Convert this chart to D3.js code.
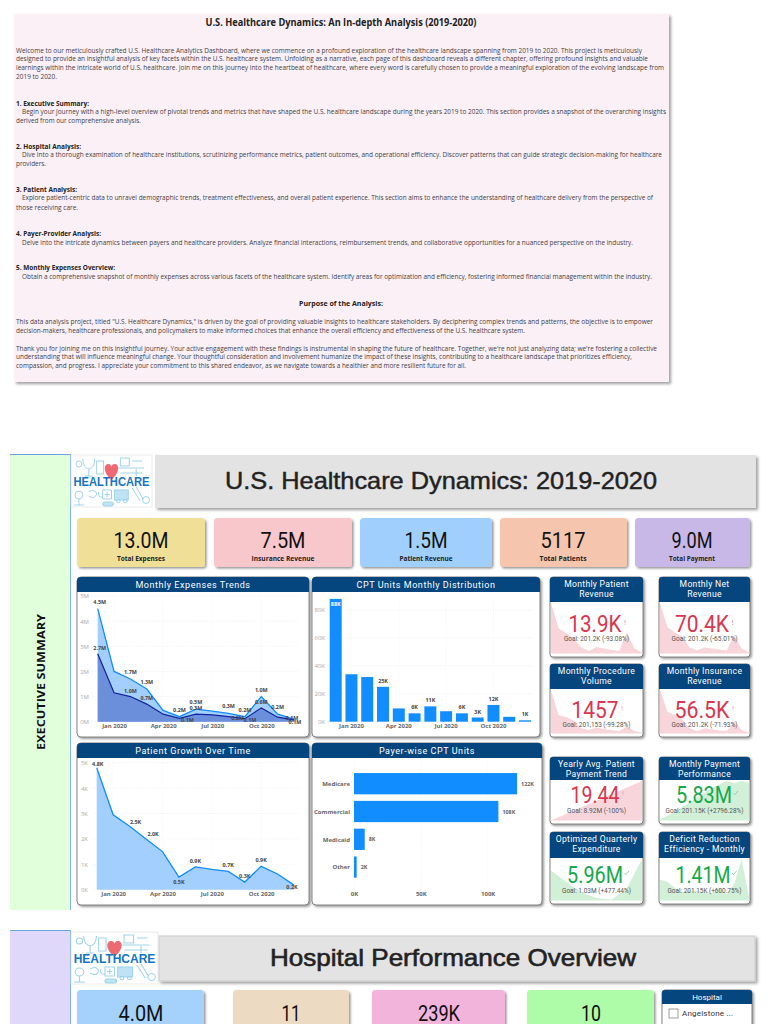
<!DOCTYPE html>
<html><head><meta charset="utf-8">
<script src="https://cdn.jsdelivr.net/npm/d3@7/dist/d3.min.js"></script>
<style>html,body{margin:0;padding:0;background:#fff;overflow:hidden}svg{display:block}</style>
</head><body><svg id="c" width="768" height="1024" viewBox="0 0 768 1024"></svg>
<script>
const docTexts=["Welcome to our meticulously crafted U.S. Healthcare Analytics Dashboard, where we commence on a profound exploration of the healthcare landscape spanning from 2019 to 2020. This project is meticulously",
"designed to provide an insightful analysis of key facets within the U.S. healthcare system. Unfolding as a narrative, each page of this dashboard reveals a different chapter, offering profound insights and valuable",
"learnings within the intricate world of U.S. healthcare. Join me on this journey into the heartbeat of healthcare, where every word is carefully chosen to provide a meaningful exploration of the evolving landscape from",
"2019 to 2020.",
"1. Executive Summary:",
"Begin your journey with a high-level overview of pivotal trends and metrics that have shaped the U.S. healthcare landscape during the years 2019 to 2020. This section provides a snapshot of the overarching insights",
"derived from our comprehensive analysis.",
"2. Hospital Analysis:",
"Dive into a thorough examination of healthcare institutions, scrutinizing performance metrics, patient outcomes, and operational efficiency. Discover patterns that can guide strategic decision-making for healthcare",
"providers.",
"3. Patient Analysis:",
"Explore patient-centric data to unravel demographic trends, treatment effectiveness, and overall patient experience. This section aims to enhance the understanding of healthcare delivery from the perspective of",
"those receiving care.",
"4. Payer-Provider Analysis:",
"Delve into the intricate dynamics between payers and healthcare providers. Analyze financial interactions, reimbursement trends, and collaborative opportunities for a nuanced perspective on the industry.",
"5. Monthly Expenses Overview:",
"Obtain a comprehensive snapshot of monthly expenses across various facets of the healthcare system. Identify areas for optimization and efficiency, fostering informed financial management within the industry.",
"This data analysis project, titled \"U.S. Healthcare Dynamics,\" is driven by the goal of providing valuable insights to healthcare stakeholders. By deciphering complex trends and patterns, the objective is to empower",
"decision-makers, healthcare professionals, and policymakers to make informed choices that enhance the overall efficiency and effectiveness of the U.S. healthcare system.",
"Thank you for joining me on this insightful journey. Your active engagement with these findings is instrumental in shaping the future of healthcare. Together, we're not just analyzing data; we're fostering a collective",
"understanding that will influence meaningful change. Your thoughtful consideration and involvement humanize the impact of these insights, contributing to a healthcare landscape that prioritizes efficiency,",
"compassion, and progress. I appreciate your commitment to this shared endeavor, as we navigate towards a healthier and more resilient future for all."];
const months=["Dec 2019","Jan 2020","Feb 2020","Mar 2020","Apr 2020","May 2020","Jun 2020","Jul 2020","Aug 2020","Sep 2020","Oct 2020","Nov 2020","Dec 2020"];
const monthTicks=["Jan 2020","Apr 2020","Jul 2020","Oct 2020"];
const expensesTotal=[4.5,2.0,1.7,1.3,0.45,0.2,0.5,0.42,0.33,0.2,1.0,0.3,0.1];
const expensesPart=[2.7,1.15,1.0,0.7,0.3,0.13,0.3,0.27,0.2,0.12,0.55,0.18,0.07];
const expensesTotalLabels=["4.5M","","1.7M","1.3M","","0.2M","0.5M","","0.3M","0.2M","1.0M","0.2M","0.1M"];
const expensesPartLabels=["2.7M","","1.0M","0.7M","","0.1M","0.3M","","0.2M","0.1M","0.6M","","0.1M"];
const cptUnits=[88,34,32,25,9.5,6,11,7.5,6,3,12,3.5,1];
const cptLabels=["88K","","","25K","","6K","11K","","6K","3K","12K","","1K"];
const patients=[4.8,2.95,2.5,2.0,1.5,0.5,0.9,0.8,0.72,0.3,0.92,0.62,0.18];
const patientLabels=["4.8K","","2.5K","2.0K","","0.5K","0.9K","","0.7K","0.3K","0.9K","","0.2K"];
const payers=["Medicare","Commercial","Medicaid","Other"];
const payerUnits=[122,108,8,2];
const kpiLabels=["Total Expenses","Insurance Revenue","Patient Revenue","Total Patients","Total Payment"];
const kpiValues=["13.0M","7.5M","1.5M","5117","9.0M"];
const hospitalKpis=["4.0M","11","239K","10"];
const cardTitles=[["Monthly Patient","Revenue"],["Monthly Net","Revenue"],["Monthly Procedure","Volume"],["Monthly Insurance","Revenue"],["Yearly Avg. Patient","Payment Trend"],["Monthly Payment","Performance"],["Optimized Quarterly","Expenditure"],["Deficit Reduction","Efficiency - Monthly"]];
const cardValues=["13.9K","70.4K","1457","56.5K","19.44","5.83M","5.96M","1.41M"];
const cardGoals=["Goal: 201.2K (-93.08%)","Goal: 201.2K (-65.01%)","Goal: 201,153 (-99.28%)","Goal: 201.2K (-71.93%)","Goal: 8.92M (-100%)","Goal: 201.15K (+2796.28%)","Goal: 1.03M (+477.44%)","Goal: 201.15K (+600.75%)"];
const cardGood=[false,false,false,false,false,true,true,true];
const sparkPatientRev=[1,.5,.4,.3,.12,.05,.13,.1,.07,.05,.42,.1,.02];
const sparkNetRev=[1,.52,.42,.33,.12,.06,.12,.1,.08,.06,.36,.1,.02];
const sparkProcedure=[1,.42,.38,.3,.12,.08,.14,.1,.08,.05,.16,.06,.02];
const sparkInsurance=[1,.5,.42,.32,.12,.05,.12,.1,.07,.05,.28,.08,.02];
const sparkYearly=[0,1];
const sparkPayment=[.03,.12,.22,.34,.46,.58,.7,.82,.92,1,.95,1,.96];
const sparkQuarterly=[.72,.45,.2,.06,.02,.3,1];
const sparkDeficit=[.5,.45,.3,.2,.25,.22,.2,.18,.3,.15,.4,1,.08];
const cardSparks=[sparkPatientRev,sparkNetRev,sparkProcedure,sparkInsurance,sparkYearly,sparkPayment,sparkQuarterly,sparkDeficit];

const svg=d3.select("#c");
const SANS="'Open Sans','Noto Sans',sans-serif", DIN="Roboto,'Noto Sans',sans-serif", ARIAL="'Liberation Sans',Arial,sans-serif";
const defs=svg.append("defs");
function shadow(id,dx,dy,sd,op){const f=defs.append("filter").attr("id",id).attr("x","-10%").attr("y","-10%").attr("width","125%").attr("height","125%");
 f.append("feDropShadow").attr("dx",dx).attr("dy",dy).attr("stdDeviation",sd).attr("flood-color","#000").attr("flood-opacity",op);}
shadow("s1",2,2,1.6,.38);shadow("s2",1.5,1.5,1.2,.42);
function txt(g,s,x,y,o={}){const t=g.append("text").attr("x",x).attr("y",y).text(s)
 .attr("font-family",o.f||SANS).attr("font-size",o.s||7).attr("fill",o.c||"#333").attr("font-weight",o.w||400)
 .attr("text-anchor",o.a||"start");
 if(o.len)t.attr("textLength",o.len).attr("lengthAdjust","spacingAndGlyphs");
 if(o.ls)t.attr("letter-spacing",o.ls);
 if(o.tr)t.attr("transform",o.tr);
 if(o.sw)t.attr("stroke",o.c||"#333").attr("stroke-width",o.sw);
 return t;}

/* intro document */
const doc=svg.append("g");
doc.append("rect").attr("x",14).attr("y",14).attr("width",655).attr("height",368).attr("fill","#fbf0f6").attr("filter","url(#s1)");
txt(doc,"U.S. Healthcare Dynamics: An In-depth Analysis (2019-2020)",341,26,{s:10,w:700,a:"middle",c:"#222",len:271});
const docY=[53,61,70,79,106,114,123,149,157,166,192,200,210,236,245,270,279,324,333,351,359,368];
const docX=[16,16,16,16,16,22,16,16,22,16,16,22,16,16,22,16,22,16,16,16,16,16];
const docEnd=[642,648,664,57,89,666,141,81,662,46,77,653,78,101,633,115,652,653,525,657,632,466];
const docBold=[4,7,10,13,15];
docTexts.forEach((t,i)=>{const b=docBold.includes(i);
 txt(doc,t,docX[i],docY[i],{s:6.3,w:b?700:400,c:b?"#222":"#3f3f46",len:docEnd[i]-docX[i]});});
txt(doc,"Purpose of the Analysis:",341,306,{s:7,w:700,a:"middle",c:"#222",len:84});

/* logo */
function logo(x,y,w,h){const g=svg.append("g").attr("transform",`translate(${x},${y}) scale(${w/82},${h/52})`);
 g.append("rect").attr("width",82).attr("height",52).attr("fill","#fff").attr("stroke","#ddd").attr("stroke-width",.6);
 const ic=g.append("g").attr("fill","none").attr("stroke","#9fd3ea").attr("stroke-width",1);
 ic.append("circle").attr("cx",8).attr("cy",9).attr("r",3);
 ic.append("path").attr("d","M12 4 C12 17 24 17 24 4 M18 14 V21 M14 21 H22");
 ic.append("rect").attr("x",26).attr("y",6).attr("width",7).attr("height",13);
 ic.append("path").attr("d","M46 13 H74 M50 18 H72 M50 3 h9 v8 h-9z M66 14 v7 M62 6 h10");
 ic.append("circle").attr("cx",8).attr("cy",40).attr("r",4);
 ic.append("path").attr("d","M8 44 V50 M3 50 H13 M18 37 q6 -4 8 2 q-2 6 -8 2 M28 37 q-1 6 4 5 M32 35 h9 v9 h-9z M36.5 37 v5 M34 39.5 h5");
 ic.append("rect").attr("x",44).attr("y",35).attr("width",14).attr("height",10).attr("fill","#bfe3f2");
 ic.append("circle").attr("cx",48).attr("cy",46).attr("r",1.8);ic.append("circle").attr("cx",55).attr("cy",46).attr("r",1.8);
 ic.append("path").attr("d","M62 33 L70 46 M66 32 L73 44");
 ic.append("circle").attr("cx",76).attr("cy",45).attr("r",3.5);
 ic.append("rect").attr("x",32).attr("y",47).attr("width",11).attr("height",4).attr("rx",2).attr("fill","#bfe3f2");
 g.append("path").attr("fill","#ee6a72").attr("d","M41 25 C32 17 33 9 38 9 C40 9 41 11 41 12 C41 11 42 9 44 9 C49 9 50 17 41 25Z");
 txt(g,"HEALTHCARE",41,31.5,{f:ARIAL,s:12,w:700,a:"middle",c:"#1274c6",len:77});
}

/* section frames */
const s1=svg.append("g");
s1.append("rect").attr("x",10).attr("y",454).attr("width",60).attr("height",456).attr("fill","#e2ffdc");
s1.append("rect").attr("x",10).attr("y",454).attr("width",60).attr("height",1).attr("fill","#6aa6e0");
s1.append("rect").attr("x",70).attr("y",454).attr("width",1).attr("height",456).attr("fill","#7eb4ea");
s1.append("rect").attr("x",155).attr("y",455).attr("width",601).attr("height",53).attr("fill","#e3e3e3").attr("filter","url(#s1)");
logo(71,455,81,52);
txt(s1,"U.S. Healthcare Dynamics: 2019-2020",441,489,{f:ARIAL,s:24,c:"#222",a:"middle",len:432,sw:.45});
txt(s1,"EXECUTIVE SUMMARY",0,0,{s:11,w:700,c:"#111",a:"middle",len:136,tr:"translate(45,682) rotate(-90)"});

function kpi(g,x,y,w,h,fill,val,cx,vlen,by,lab,lx,llen){
 g.append("rect").attr("x",x).attr("y",y).attr("width",w).attr("height",h).attr("rx",3.5).attr("fill",fill).attr("filter","url(#s2)");
 txt(g,val,cx,by,{f:DIN,s:22,c:"#111",a:"middle",len:vlen});
 if(lab)txt(g,lab,lx,561,{s:6.2,w:700,c:"#222",a:"middle",len:llen});
}
const kpiRect=[[77,128,"#f0df96",141,55,48],[214,138,"#f7c7cc",283,45,63],[360,132,"#a0cffe",426,43,53],[500,127,"#f5c6ad",563,45,47],[635,115,"#c8b8e8",692,41,46]];
kpiValues.forEach((v,i)=>{const r=kpiRect[i];kpi(s1,r[0],518,r[1],49,r[2],v,r[3],r[4],548,kpiLabels[i],r[3],r[5]);});

const HEAD="#05467f";
function topRound(x,y,w,h,r){return `M${x} ${y+h}V${y+r}Q${x} ${y} ${x+r} ${y}H${x+w-r}Q${x+w} ${y} ${x+w} ${y+r}V${y+h}Z`;}
function panel(x,y,w,h,hh,title){const g=svg.append("g");
 g.append("rect").attr("x",x).attr("y",y).attr("width",w).attr("height",h).attr("rx",4).attr("fill","#fff").attr("stroke","#666").attr("stroke-width",.8).attr("filter","url(#s2)");
 g.append("path").attr("d",topRound(x,y,w,hh,4)).attr("fill",HEAD);
 txt(g,title,x+w/2,y+hh/2+3.1,{f:DIN,s:9,c:"#fff",a:"middle",ls:.55});
 return g;}
function gridH(g,y,vals,x0,x1){g.selectAll(null).data(vals).join("line").attr("x1",x0).attr("x2",x1).attr("y1",d=>y(d)).attr("y2",d=>y(d)).attr("stroke","#e6e6e6").attr("stroke-width",.6).attr("stroke-dasharray","1 1.5");}
function gridV(g,xf,vals,y0,y1){g.selectAll(null).data(vals).join("line").attr("y1",y0).attr("y2",y1).attr("x1",xf).attr("x2",xf).attr("stroke","#efefef").attr("stroke-width",.6).attr("stroke-dasharray","1 1.5");}
function styleAxis(a,col,w){a.select(".domain").remove();a.selectAll(".tick line").remove();
 a.selectAll("text").attr("font-family",SANS).attr("font-size",6).attr("fill",col).attr("font-weight",w);}
function yAxis(g,y,x,vals,suffix){const a=g.append("g").attr("transform",`translate(${x},0)`).call(d3.axisLeft(y).tickValues(vals).tickFormat(d=>d+suffix).tickSize(0).tickPadding(0));styleAxis(a,"#aaa",400);}
function xAxis(g,sc,yy,vals,fmt){const ax=d3.axisBottom(sc).tickValues(vals).tickSize(0).tickPadding(0);if(fmt)ax.tickFormat(fmt);
 const a=g.append("g").attr("transform",`translate(0,${yy})`).call(ax);styleAxis(a,"#666",700);}
function dlab(g,s,x,y,o={}){if(!s)return;txt(g,s,x,y,{s:5.4,w:700,c:o.c||"#444",a:o.a||"middle"});}

/* Monthly expenses */
{const g=panel(77,577,232,160,15,"Monthly Expenses Trends");
 const x=d3.scalePoint().domain(months).range([97.7,294]);
 const y=d3.scaleLinear().domain([0,5]).range([721.7,596]);
 const yv=[0,1,2,3,4,5];gridH(g,y,yv,92,298);gridV(g,d=>d,monthTicks.map(m=>x(m)),596,722);
 yAxis(g,y,89,yv,"M");xAxis(g,x,724,monthTicks);
 const area=(s)=>d3.area().x((d,i)=>x(months[i])).y0(y(0)).y1(d=>y(d))(s);
 const line=(s)=>d3.line().x((d,i)=>x(months[i])).y(d=>y(d))(s);
 g.append("path").attr("d",area(expensesTotal)).attr("fill","#a3cfff");
 g.append("path").attr("d",area(expensesPart)).attr("fill","#6c8fdc");
 g.append("path").attr("d",line(expensesTotal)).attr("fill","none").attr("stroke","#118dff").attr("stroke-width",1.3);
 g.append("path").attr("d",line(expensesPart)).attr("fill","none").attr("stroke","#12239e").attr("stroke-width",1.2);
 const topOff={0:[2,-5],12:[-2,0.5]};
 const lowOff={0:[2,-4],5:[8,3.5],8:[9,3],9:[5,3.5],12:[1,4]};
 expensesTotal.forEach((v,i)=>{const o=topOff[i]||[0,-5];dlab(g,expensesTotalLabels[i],x(months[i])+o[0],y(v)+o[1]);});
 expensesPart.forEach((v,i)=>{const o=lowOff[i]||[0,-4];dlab(g,expensesPartLabels[i],x(months[i])+o[0],y(v)+o[1]);});
}
/* CPT monthly */
{const g=panel(312,577,228,160,15,"CPT Units Monthly Distribution");
 const x=d3.scaleBand().domain(months).range([327.8,532.9]).paddingInner(.24).paddingOuter(.12);
 const y=d3.scaleLinear().domain([0,90]).range([721.7,596.1]);
 const yv=[0,20,40,60,80];gridH(g,y,yv,328,532);gridV(g,d=>d,monthTicks.map(m=>x(m)+x.bandwidth()/2),598,722);
 yAxis(g,y,325,yv,"K");xAxis(g,x,724,monthTicks);
 g.selectAll(null).data(cptUnits).join("rect").attr("x",(d,i)=>x(months[i])).attr("width",x.bandwidth()).attr("y",d=>y(d)).attr("height",d=>y(0)-y(d)).attr("fill","#118dff");
 cptUnits.forEach((v,i)=>{if(i==0)dlab(g,cptLabels[i],x(months[i])+x.bandwidth()/2,y(v)+7,{c:"#fff"});else dlab(g,cptLabels[i],x(months[i])+x.bandwidth()/2,y(v)-4);});
}
/* Patient growth */
{const g=panel(77,743,232,162,15,"Patient Growth Over Time");
 const x=d3.scalePoint().domain(months).range([96.7,294]);
 const y=d3.scaleLinear().domain([0,5]).range([889.7,762.7]);
 const yv=[0,1,2,3,4,5];gridH(g,y,yv,92,298);gridV(g,d=>d,monthTicks.map(m=>x(m)),763,890);
 yAxis(g,y,88,yv,"K");xAxis(g,x,892,monthTicks);
 g.append("path").attr("d",d3.area().x((d,i)=>x(months[i])).y0(y(0)).y1(d=>y(d))(patients)).attr("fill","#a3cfff");
 g.append("path").attr("d",d3.line().x((d,i)=>x(months[i])).y(d=>y(d))(patients)).attr("fill","none").attr("stroke","#118dff").attr("stroke-width",1.3);
 const off={0:[1,-1.5],2:[6,-2.5],3:[7,-2.5],5:[0,7],6:[0,-4],8:[0,-4],9:[0,-4],10:[0,-4],12:[-2,3.5]};
 patients.forEach((v,i)=>{if(off[i])dlab(g,patientLabels[i],x(months[i])+off[i][0],y(v)+off[i][1]);});
}
/* Payer */
{const g=panel(312,743,230,162,15,"Payer-wise CPT Units");
 const x=d3.scaleLinear().domain([0,100]).range([354,487.7]);
 const y=d3.scaleBand().domain(payers).range([769.8,881]).paddingInner(.235).paddingOuter(.1175);
 gridV(g,x,[0,50,100],762,890);
 xAxis(g,x,892,[0,50,100],d=>d+"K");
 g.selectAll(null).data(payerUnits).join("rect").attr("x",x(0)).attr("y",(d,i)=>y(payers[i])).attr("height",y.bandwidth()).attr("width",d=>x(d)-x(0)).attr("fill","#118dff");
 payers.forEach((p,i)=>{txt(g,p,350,y(p)+y.bandwidth()/2+2.2,{s:6,w:700,c:"#666",a:"end"});
  dlab(g,payerUnits[i]+"K",x(payerUnits[i])+4,y(p)+y.bandwidth()/2+2,{a:"start",c:"#666"});});
}
/* KPI cards */
const cardBox=[[550,577,93,80,25],[659,577,91,80,25],[550,664,93,73,25],[659,664,91,73,25],[550,757,93,67,23],[659,757,91,67,23],[550,832,93,72,26],[659,832,91,72,26]];
const cardLayout=[[595,53,632,640.5,65],[702,54,632,640.5,66],[595,47,718,726.5,68],[702,55,718,726.5,66],[595,49,803,812.5,59],[704,56,803,812.5,78],[595,56,883,892.5,69],[703,55,883,892.5,74]];
cardValues.forEach((val,i)=>{const [x,y,w,h,hh]=cardBox[i];const [cx,vl,by,gy,gl]=cardLayout[i];
 const g=svg.append("g");
 g.append("rect").attr("x",x).attr("y",y).attr("width",w).attr("height",h).attr("rx",3).attr("fill","#fff").attr("stroke","#666").attr("stroke-width",.8).attr("filter","url(#s2)");
 const sx=d3.scalePoint().domain(d3.range(cardSparks[i].length)).range([x+1,x+w-1]);
 const sy=d3.scaleLinear().domain([0,1]).range([y+h-3.5,y+hh+1]);
 const good=cardGood[i];
 g.append("path").attr("d",d3.area().x((d,k)=>sx(k)).y0(sy(0)).y1(d=>sy(d))(cardSparks[i])).attr("fill",good?"#d2efd8":"#f8d5da");
 g.append("path").attr("d",topRound(x,y,w,hh,3)).attr("fill",HEAD);
 cardTitles[i].forEach((t,k)=>txt(g,t,x+w/2,y+9.5+k*10.7,{f:DIN,s:8.6,c:"#fff",a:"middle",ls:.3}));
 const col=good?"#16a94b":"#d93650";
 txt(g,val,cx,by,{f:DIN,s:24,c:col,a:"middle",len:vl});
 /* status icon: tick or exclamation mark */
 const ix=cx+vl/2+3.5, iy=by-12;
 g.append("path").attr("fill","none").attr("stroke",good?"#7fc79a":"#e99aa6").attr("stroke-width",.8)
  .attr("d",good?`M${ix-2} ${iy+2} l1.5 1.5 l3 -3.5`:`M${ix} ${iy} v3.2 M${ix} ${iy+4} v.8`);
 txt(g,cardGoals[i],x+w/2,gy,{f:DIN,s:7,c:"#555",a:"middle",len:gl});
});

/* hospital section */
const s3=svg.append("g");
s3.append("rect").attr("x",10).attr("y",930).attr("width",60).attr("height",94).attr("fill","#e0d8fb");
s3.append("rect").attr("x",10).attr("y",930).attr("width",60).attr("height",1).attr("fill","#6aa6e0");
s3.append("rect").attr("x",70).attr("y",930).attr("width",1).attr("height",94).attr("fill","#7eb4ea");
s3.append("rect").attr("x",159).attr("y",936).attr("width",596).attr("height",45).attr("fill","#e3e3e3").attr("stroke","#ccc").attr("filter","url(#s1)");
logo(71,932,87,52);
txt(s3,"Hospital Performance Overview",453,966,{f:ARIAL,s:24,c:"#222",a:"middle",len:366,sw:.6});
const hospRect=[[77,127,"#a4d2fd",141,45],[233,116,"#eddac2",291,19],[372,133,"#f3b4dc",439,42],[527,127,"#aefba8",591,20]];
hospitalKpis.forEach((v,i)=>{const r=hospRect[i];kpi(s3,r[0],990,r[1],60,r[2],v,r[3],r[4],1020.5);});
s3.append("rect").attr("x",662).attr("y",990).attr("width",90).attr("height",60).attr("rx",3).attr("fill","#fff").attr("stroke","#666").attr("stroke-width",.8).attr("filter","url(#s2)");
s3.append("path").attr("d",topRound(662,990,90,14,3)).attr("fill",HEAD);
txt(s3,"Hospital",707,1000,{f:DIN,s:8,c:"#fff",a:"middle"});
s3.append("rect").attr("x",669).attr("y",1009).attr("width",9).attr("height",9).attr("fill","#fff").attr("stroke","#777").attr("stroke-width",.7);
txt(s3,"Angelstone ...",682,1016,{f:DIN,s:8,c:"#333",ls:.2});
</script></body></html>
